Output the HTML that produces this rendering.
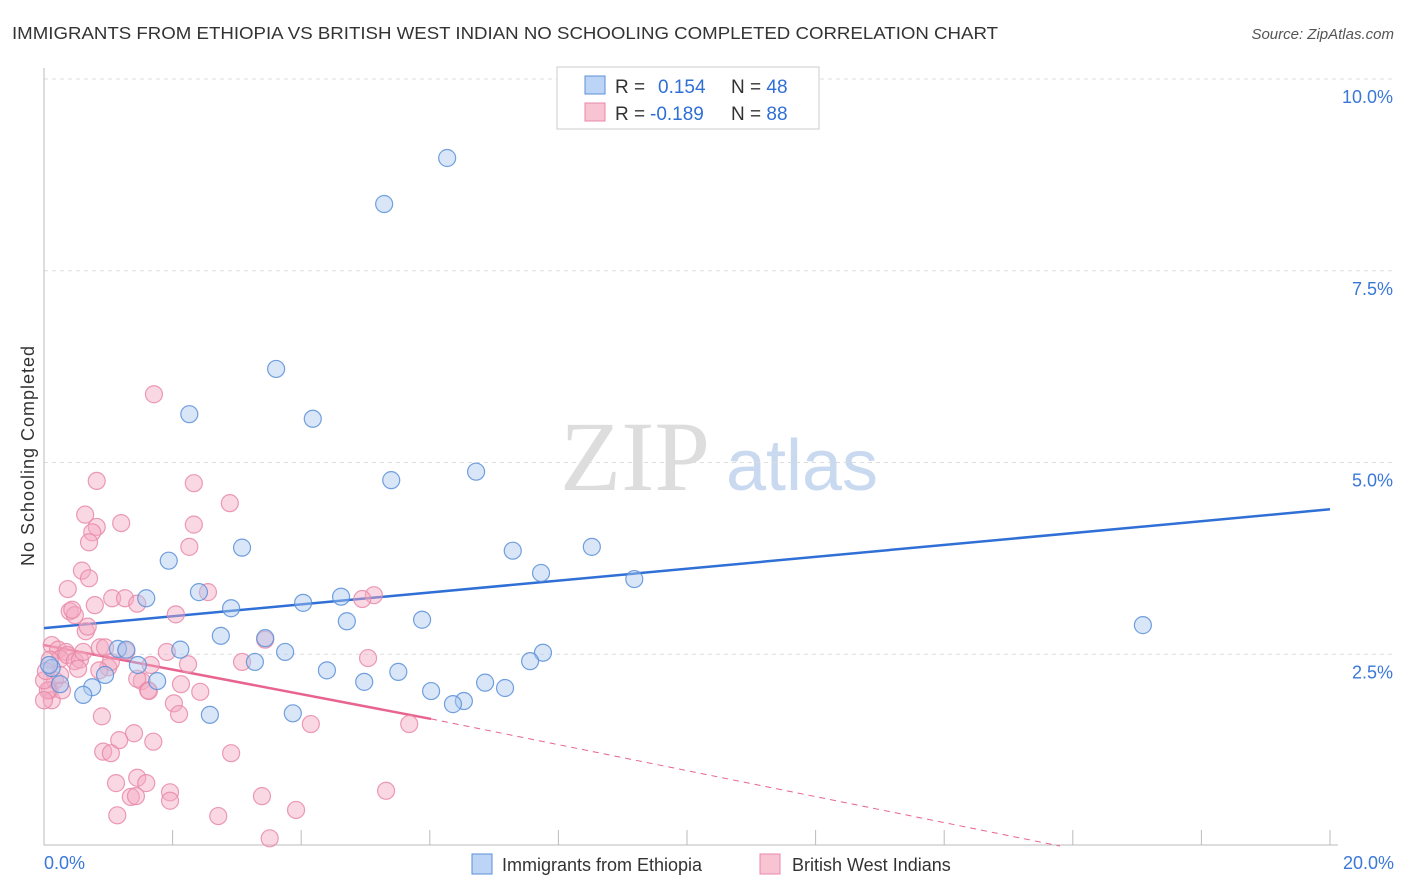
<!DOCTYPE html>
<html><head><meta charset="utf-8"><style>
body{margin:0;background:#fff;font-family:"Liberation Sans",sans-serif;}
#wrap{position:relative;width:1406px;height:892px;overflow:hidden}
</style></head><body>
<div id="wrap">
<svg id="svg" width="1406" height="892" xmlns="http://www.w3.org/2000/svg">
<text x="12" y="39" font-size="17.5" fill="#333" textLength="986" lengthAdjust="spacingAndGlyphs">IMMIGRANTS FROM ETHIOPIA VS BRITISH WEST INDIAN NO SCHOOLING COMPLETED CORRELATION CHART</text>
<text x="1394" y="39" font-size="15" fill="#555" font-style="italic" text-anchor="end">Source: ZipAtlas.com</text>
<text x="34" y="456" font-size="18" fill="#333" text-anchor="middle" textLength="220" transform="rotate(-90 34 456)">No Schooling Completed</text>
<g><text x="635" y="490" font-size="100" fill="#ddd" font-family="Liberation Serif,serif" text-anchor="middle">ZIP</text><text x="802" y="490" font-size="72" fill="#c9d9ef" text-anchor="middle">atlas</text></g>
<g id="grid"></g><g id="axes"></g><g id="lines"></g><g id="pts"></g>
<g>
<rect x="557" y="67" width="262" height="62" fill="#fff" stroke="#ccc"/>
<rect x="585" y="76" width="20" height="18" fill="#bcd4f5" stroke="#5b8fd8"/>
<rect x="585" y="103" width="20" height="18" fill="#f8c3d3" stroke="#e88aa8"/>
<text x="615" y="93" font-size="19" fill="#333">R = <tspan fill="#2f6fd6" x="658">0.154</tspan><tspan x="731">N = </tspan><tspan fill="#2f6fd6">48</tspan></text>
<text x="615" y="120" font-size="19" fill="#333">R = <tspan fill="#2f6fd6" x="650">-0.189</tspan><tspan x="731">N = </tspan><tspan fill="#2f6fd6">88</tspan></text>
</g>
<g>
<rect x="472" y="854" width="20" height="20" fill="#bcd4f5" stroke="#5b8fd8"/>
<text x="502" y="871" font-size="18" fill="#333">Immigrants from Ethiopia</text>
<rect x="760" y="854" width="20" height="20" fill="#f8c3d3" stroke="#e88aa8"/>
<text x="792" y="871" font-size="18" fill="#333">British West Indians</text>
</g>
</svg></div>
<script>
const blueX=[6.27,5.29,3.61,2.26,4.18,6.72,5.40,3.08,1.94,7.29,8.52,7.73,9.18,2.41,1.59,2.91,4.03,4.62,4.71,5.88,17.09,2.75,3.44,1.15,1.28,2.12,3.75,1.46,3.28,7.76,7.56,4.40,5.51,4.98,6.86,7.17,6.02,6.53,6.36,1.76,0.95,0.75,0.61,2.58,3.87,0.12,0.25,0.08];
const blueY=[8.97,8.37,6.22,5.63,5.57,4.88,4.77,3.89,3.72,3.85,3.90,3.56,3.48,3.31,3.23,3.10,3.17,3.25,2.93,2.95,2.88,2.74,2.71,2.57,2.56,2.56,2.53,2.36,2.40,2.52,2.41,2.29,2.27,2.14,2.13,2.06,2.02,1.89,1.85,2.15,2.23,2.07,1.97,1.71,1.73,2.32,2.11,2.36];
const pinkX=[1.71,0.82,2.33,2.89,0.64,0.82,1.20,2.33,0.75,0.70,2.26,0.59,0.70,0.37,2.55,1.06,1.26,1.45,0.79,0.40,0.48,2.05,0.44,5.13,4.95,3.44,0.65,0.68,0.87,1.28,0.12,0.22,0.34,0.25,0.36,0.48,0.56,0.61,0.95,1.00,1.04,0.86,0.53,1.91,2.24,1.66,1.52,1.45,1.62,1.63,2.13,2.43,3.08,5.04,0.09,0.17,0.09,0.12,0.28,0.90,2.02,2.10,4.15,5.68,1.40,1.17,1.70,2.91,0.92,1.04,1.45,1.12,1.59,1.96,1.35,1.43,1.96,5.32,1.14,2.71,3.39,3.92,3.51,0.06,0.00,0.00,0.03,0.25];
const pinkY=[5.89,4.76,4.73,4.47,4.32,4.16,4.21,4.19,4.09,3.96,3.90,3.59,3.49,3.35,3.31,3.23,3.23,3.16,3.14,3.06,3.01,3.02,3.08,3.27,3.22,2.69,2.80,2.86,2.59,2.54,2.62,2.56,2.53,2.44,2.49,2.41,2.43,2.53,2.59,2.33,2.40,2.29,2.31,2.53,2.37,2.36,2.15,2.18,2.03,2.02,2.11,2.01,2.40,2.45,2.43,2.16,2.03,1.90,2.03,1.69,1.86,1.72,1.59,1.59,1.47,1.38,1.36,1.21,1.23,1.21,0.89,0.82,0.82,0.70,0.64,0.65,0.59,0.72,0.40,0.39,0.65,0.47,0.10,2.03,2.16,1.90,2.28,2.23];
const yTicks=[2.5,5.0,7.5,10.0];
const yTickLabels=["2.5%","5.0%","7.5%","10.0%"];
const xTicks=[2,4,6,8,10,12,14,16,18,20];
const blueTrend=[2.84,4.39];
const pinkTrend=[2.62,-0.160,6.02,15.8];
const NS="http://www.w3.org/2000/svg";
const X=v=>44+v*64.3, Y=v=>846-v*76.7;
function mk(p,t,a){const e=document.createElementNS(NS,t);for(const k in a)e.setAttribute(k,a[k]);document.getElementById(p).appendChild(e);return e;}
yTicks.forEach((t,i)=>{
 const g=mk('grid','line',{x1:44,x2:1394,y1:Y(t),y2:Y(t),stroke:'#ddd','stroke-dasharray':'4,4'});
 
 
 const l=mk('grid','text',{x:1393,y:Y(t)+24,'font-size':18,fill:'#3a78d8','text-anchor':'end'});l.textContent=yTickLabels[i];
 
 
});
const ax=mk('axes','path',{d:'M44,68V845H1338',stroke:'#bbb',fill:'none'});


xTicks.forEach(t=>{const e=mk('axes','line',{x1:X(t),x2:X(t),y1:830,y2:845,stroke:'#bbb'});
 
 });
const xl0=mk('axes','text',{x:44,y:869,'font-size':18,fill:'#3a78d8'});xl0.textContent='0.0%';


const xl1=mk('axes','text',{x:1394,y:869,'font-size':18,fill:'#3a78d8','text-anchor':'end'});xl1.textContent='20.0%';


function pts(xs,ys,fill,stroke,name){xs.forEach((x,i)=>{const c=mk('pts','circle',{cx:X(x),cy:Y(ys[i]),r:8.5,fill:fill,'fill-opacity':0.45,stroke:stroke,'stroke-width':1.2,'stroke-opacity':0.85});
 
 });}
pts(pinkX,pinkY,'#f4a9c0','#e88aa8','point-bwi');
pts(blueX,blueY,'#a8c8f0','#5b8fd8','point-ethiopia');
const bl=mk('lines','line',{x1:X(0),y1:Y(blueTrend[0]),x2:X(20),y2:Y(blueTrend[1]),stroke:'#2f6fd6','stroke-width':2.5});


const pe=pinkTrend[2], pz=pinkTrend[3];
const pl=mk('lines','line',{x1:X(0),y1:Y(pinkTrend[0]),x2:X(pe),y2:Y(pinkTrend[0]+pinkTrend[1]*pe),stroke:'#e8648f','stroke-width':2.5});


const pd=mk('lines','line',{x1:X(pe),y1:Y(pinkTrend[0]+pinkTrend[1]*pe),x2:X(pz),y2:Y(0),stroke:'#e8648f','stroke-width':1,'stroke-dasharray':'6,5'});


</script>
</body></html>
